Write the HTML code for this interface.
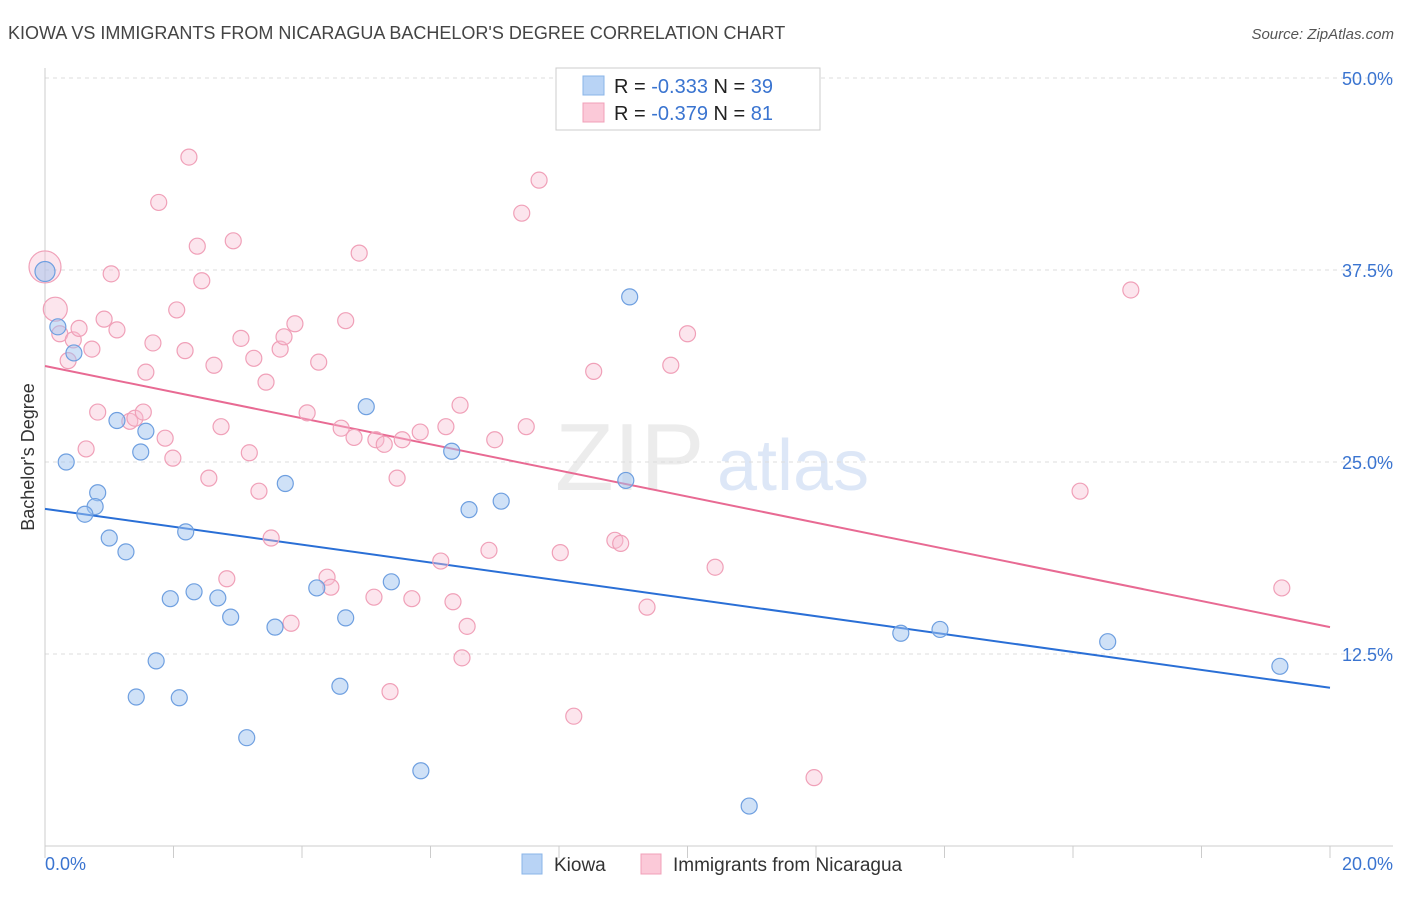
<!DOCTYPE html>
<html><head><meta charset="utf-8"><style>
body{margin:0;background:#fff;font-family:"Liberation Sans",sans-serif;}
svg text{font-family:"Liberation Sans",sans-serif;}
</style></head><body>
<svg id="chart" width="1406" height="892" xmlns="http://www.w3.org/2000/svg">
<text x="8" y="39" font-size="18" fill="#444">KIOWA VS IMMIGRANTS FROM NICARAGUA BACHELOR'S DEGREE CORRELATION CHART</text>
<text x="1394" y="39" font-size="15" fill="#555" text-anchor="end" font-style="italic">Source: ZipAtlas.com</text>
<g opacity="0.18">
<text x="555" y="490" font-size="96" font-family="Liberation Serif" fill="#999">ZIP</text>
<text x="717" y="490" font-size="72" fill="#4a7fd4">atlas</text>
</g>
<g id="grid"></g>
<g id="axes"></g>
<text transform="translate(34,457) rotate(-90)" font-size="18" fill="#333" text-anchor="middle">Bachelor's Degree</text>
<g id="trends"></g>
<g id="points"></g>
<g>
<rect x="556" y="68" width="264" height="62" fill="#fff" stroke="#ccc"/>
<rect x="583" y="76" width="21" height="19" fill="#b8d3f5" stroke="#8ab4e8"/>
<text x="614" y="93" font-size="20" fill="#222">R = <tspan fill="#3a74d0">-0.333</tspan>   N = <tspan fill="#3a74d0">39</tspan></text>
<rect x="583" y="103" width="21" height="19" fill="#fbc9d8" stroke="#f0a0b8"/>
<text x="614" y="120" font-size="20" fill="#222">R = <tspan fill="#3a74d0">-0.379</tspan>   N =  <tspan fill="#3a74d0">81</tspan></text>
</g>
<g>
<rect x="522" y="854" width="20" height="20" fill="#b8d3f5" stroke="#8ab4e8"/>
<text x="554" y="871" font-size="19" fill="#333">Kiowa</text>
<rect x="641" y="854" width="20" height="20" fill="#fbc9d8" stroke="#f0a0b8"/>
<text x="673" y="871" font-size="19" fill="#333">Immigrants from Nicaragua</text>
</g>
</svg>
<script>
const yTicks=[12.5,25,37.5,50];
const yTickLabels=["12.5%","25.0%","37.5%","50.0%"];
const xTickLabels=["0.0%","20.0%"];
const kiowaX=[0,0.2,0.45,0.33,1.12,1.57,1.49,0.82,0.78,0.62,1.0,1.26,2.19,1.95,2.32,2.69,2.89,3.58,3.74,4.23,4.68,5.0,5.39,6.33,6.6,7.1,1.73,1.42,2.09,3.14,4.59,5.85,9.1,9.04,10.96,13.32,13.93,16.54,19.22];
const kiowaY=[37.4,33.8,32.1,25.0,27.7,27.0,25.65,23.0,22.1,21.6,20.05,19.15,20.45,16.1,16.55,16.15,14.9,14.25,23.6,16.8,14.85,28.6,17.2,25.7,21.9,22.45,12.05,9.7,9.65,7.05,10.4,4.9,35.75,23.8,2.6,13.85,14.1,13.3,11.7];
const nicX=[0,0.16,0.23,0.36,0.44,0.53,0.73,0.92,1.12,1.03,0.82,0.64,1.32,1.4,1.53,1.57,1.68,1.87,1.99,1.77,2.24,2.37,2.44,2.05,2.18,2.63,2.74,2.55,2.83,2.93,3.05,3.25,3.18,3.33,3.44,3.52,3.66,3.72,3.89,3.83,4.08,4.26,4.39,4.45,4.61,4.68,4.81,4.89,5.12,5.15,5.28,5.37,5.48,5.56,5.71,5.84,6.16,6.24,6.35,6.46,6.49,6.57,6.91,7.0,7.42,7.49,7.69,8.02,8.23,8.54,8.87,8.96,9.37,9.74,10.0,10.43,11.97,16.11,16.9,19.25];
const nicY=[37.7,34.95,33.35,31.6,32.95,33.7,32.35,34.3,33.6,37.25,28.25,25.85,27.65,27.85,28.25,30.85,32.75,26.55,25.25,41.9,44.85,39.05,36.8,34.9,32.25,31.3,27.3,23.95,17.4,39.4,33.05,31.75,25.6,23.1,30.2,20.05,32.35,33.15,34.0,14.5,28.2,31.5,17.5,16.85,27.2,34.2,26.6,38.6,16.2,26.45,26.15,10.05,23.95,26.45,16.1,26.95,18.55,27.3,15.9,28.7,12.25,14.3,19.25,26.45,41.2,27.3,43.35,19.1,8.45,30.9,19.9,19.7,15.55,31.3,33.35,18.15,4.45,23.1,36.2,16.8];
const kiowaTrend=[21.95,10.3];
const nicTrend=[31.25,14.25];
const NS="http://www.w3.org/2000/svg";
const X=v=>45+v*64.25, Y=v=>846-v*15.36;
function mk(tag,attrs,parent){const e=document.createElementNS(NS,tag);for(const k in attrs)e.setAttribute(k,attrs[k]);parent.appendChild(e);return e;}
const grid=document.getElementById('grid'),axes=document.getElementById('axes');
yTicks.forEach((t,i)=>{
 const l=mk('line',{x1:45,x2:1393,y1:Y(t),y2:Y(t),stroke:'#ddd','stroke-dasharray':'4,4'},grid);
 
 
 const tx=mk('text',{x:1393,y:Y(t)+7,'font-size':18,fill:'#3a74d0','text-anchor':'end'},axes);
 tx.textContent=yTickLabels[i];
 
 
});
mk('line',{x1:45,x2:45,y1:68,y2:846,stroke:'#ccc'},axes);
mk('line',{x1:45,x2:1393,y1:846,y2:846,stroke:'#ccc'},axes);
for(let i=0;i<=10;i++){const t=mk('line',{x1:X(i*2),x2:X(i*2),y1:846,y2:858,stroke:'#ccc'},axes);
 
 }
const xl0=mk('text',{x:45,y:870,'font-size':18,fill:'#3a74d0'},axes);xl0.textContent=xTickLabels[0];


const xl1=mk('text',{x:1393,y:870,'font-size':18,fill:'#3a74d0','text-anchor':'end'},axes);xl1.textContent=xTickLabels[1];


const pts=document.getElementById('points');
nicX.forEach((x,i)=>{const r=i==0?16:(i==1?12:8);
 const c=mk('circle',{cx:X(x),cy:Y(nicY[i]),r:r,fill:'rgba(248,190,210,0.4)',stroke:'#f0a0b8','stroke-width':1.2},pts);
 
 });
kiowaX.forEach((x,i)=>{
 const c=mk('circle',{cx:X(x),cy:Y(kiowaY[i]),r:i==0?10:8,fill:'rgba(160,196,240,0.5)',stroke:'#6e9fe0','stroke-width':1.2},pts);
 
 });
const tr=document.getElementById('trends');
const t1=mk('line',{x1:X(0),y1:Y(kiowaTrend[0]),x2:X(20),y2:Y(kiowaTrend[1]),stroke:'#2a6fd6','stroke-width':2},tr);


const t2=mk('line',{x1:X(0),y1:Y(nicTrend[0]),x2:X(20),y2:Y(nicTrend[1]),stroke:'#e86a93','stroke-width':2},tr);


</script>
</body></html>
